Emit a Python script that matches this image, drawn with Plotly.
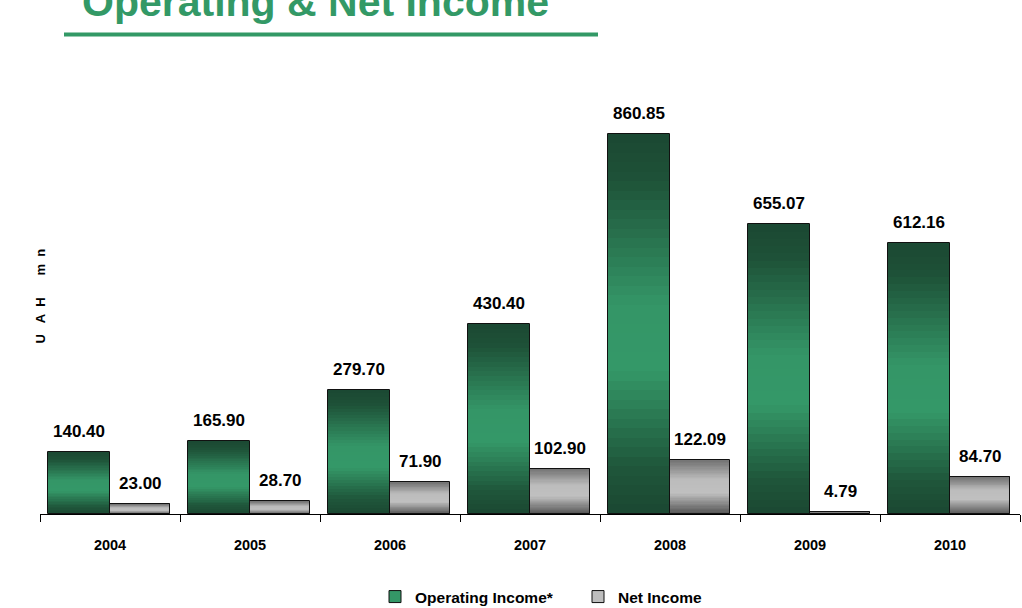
import plotly.graph_objects as go

years = ["2004", "2005", "2006", "2007", "2008", "2009", "2010"]
operating_income = [140.40, 165.90, 279.70, 430.40, 860.85, 655.07, 612.16]
net_income = [23.00, 28.70, 71.90, 102.90, 122.09, 4.79, 84.70]

FONT = "Liberation Sans, Arial, sans-serif"
N_SEG = 40


def lerp(c1, c2, t):
    return tuple(round(a + (b - a) * t) for a, b in zip(c1, c2))


def ramp(stops, t):
    for (t0, c0), (t1, c1) in zip(stops, stops[1:]):
        if t <= t1:
            return lerp(c0, c1, (t - t0) / (t1 - t0) if t1 > t0 else 0)
    return stops[-1][1]


# t = 0 at the top of a bar, 1 at its bottom
GREEN_STOPS = [(0.0, (27, 72, 50)), (0.12, (30, 82, 56)), (0.45, (52, 150, 103)),
               (0.62, (52, 152, 104)), (0.88, (31, 86, 58)), (1.0, (27, 72, 50))]
GRAY_STOPS = [(0.0, (115, 115, 115)), (0.35, (188, 188, 188)), (0.6, (192, 192, 192)),
              (1.0, (80, 80, 80))]


def rgb(c):
    return "rgb(%d,%d,%d)" % c


fig = go.Figure()

series = [
    ("Operating Income*", operating_income, GREEN_STOPS, -0.44, 0.44),
    ("Net Income", net_income, GRAY_STOPS, 0.0, 0.43),
]

for name, vals, stops, off, wid in series:
    # vertical gradient built from stacked slices of each bar
    for k in range(N_SEG):
        t = 1 - (k + 0.5) / N_SEG  # k=0 is the bottom slice
        fig.add_trace(go.Bar(
            x=years, y=[v / N_SEG for v in vals], base=[v * k / N_SEG for v in vals],
            offset=off, width=wid,
            marker=dict(color=rgb(ramp(stops, t)), line=dict(width=0)),
            showlegend=False, hoverinfo="skip",
        ))
    # outline of the full bar
    fig.add_trace(go.Bar(
        x=years, y=vals, offset=off, width=wid,
        marker=dict(color="rgba(0,0,0,0)", line=dict(color="#111111", width=1)),
        showlegend=False, hoverinfo="skip",
    ))
    # legend entry
    fig.add_trace(go.Bar(
        x=[None], y=[None], name=name,
        marker=dict(color=rgb(ramp(stops, 0.5)), line=dict(color="#111111", width=1)),
        showlegend=True,
    ))

W, H = 1022, 608
ML, MR, MT, MB = 40, 2, 72, 94
pw, ph = W - ML - MR, H - MT - MB


def px_to_paper(x, y):
    return (x - ML) / pw, (H - MB - y) / ph


annotations = []
for name, vals, stops, off, wid in series:
    for i, (yr, v) in enumerate(zip(years, vals)):
        annotations.append(dict(
            x=i + off + wid / 2, y=v, xref="x", yref="y",
            text="<b>%.2f</b>" % v, showarrow=False,
            yanchor="bottom", yshift=9,
            font=dict(family=FONT, size=17, color="#000000"),
        ))

# page title
tx, ty = px_to_paper(80, 27)
annotations.append(dict(
    x=tx, y=ty, xref="paper", yref="paper", text="<b>Operating & Net Income</b>",
    showarrow=False, xanchor="left", yanchor="bottom",
    font=dict(family=FONT, size=41, color="#339966"),
))
# axis title
ax_, ay_ = px_to_paper(30, 296)
annotations.append(dict(
    x=ax_, y=ay_, xref="paper", yref="paper",
    text="<b>U\u00a0\u00a0\u00a0A\u00a0\u00a0H\u00a0\u00a0\u00a0\u00a0\u00a0\u00a0m\u00a0\u00a0n</b>",
    showarrow=False, textangle=-90,
    font=dict(family=FONT, size=13, color="#000000"),
))

ux0, uy = px_to_paper(64, 34.5)
ux1, _ = px_to_paper(598, 34.5)

fig.update_layout(
    width=W, height=H,
    margin=dict(l=ML, r=MR, t=MT, b=MB, autoexpand=False),
    paper_bgcolor="white", plot_bgcolor="white",
    barmode="overlay", bargap=0,
    annotations=annotations,
    shapes=[dict(type="line", xref="paper", yref="paper", x0=ux0, x1=ux1, y0=uy, y1=uy,
                 line=dict(color="#339966", width=4))],
    xaxis=dict(
        type="category", tickson="boundaries", ticks="outside", ticklen=7,
        tickcolor="#000000", tickwidth=1,
        showline=True, linecolor="#000000", linewidth=1,
        showgrid=False, zeroline=False, automargin=False,
        tickfont=dict(family=FONT, size=14.5, color="#000000", weight="bold"),
        ticklabelstandoff=18,
        range=[-0.5, 6.5],
    ),
    yaxis=dict(range=[0, 1000], visible=False, showgrid=False, zeroline=False),
    legend=dict(
        orientation="h", xref="container", yref="container",
        x=375 / W, xanchor="left", y=(H - 597) / H, yanchor="middle",
        font=dict(family=FONT, size=15.5, color="#000000", weight="bold"),
        itemwidth=30, entrywidth=158, entrywidthmode="pixels",
        bgcolor="rgba(0,0,0,0)",
    ),
    showlegend=True,
)

fig.write_html("out.html")
